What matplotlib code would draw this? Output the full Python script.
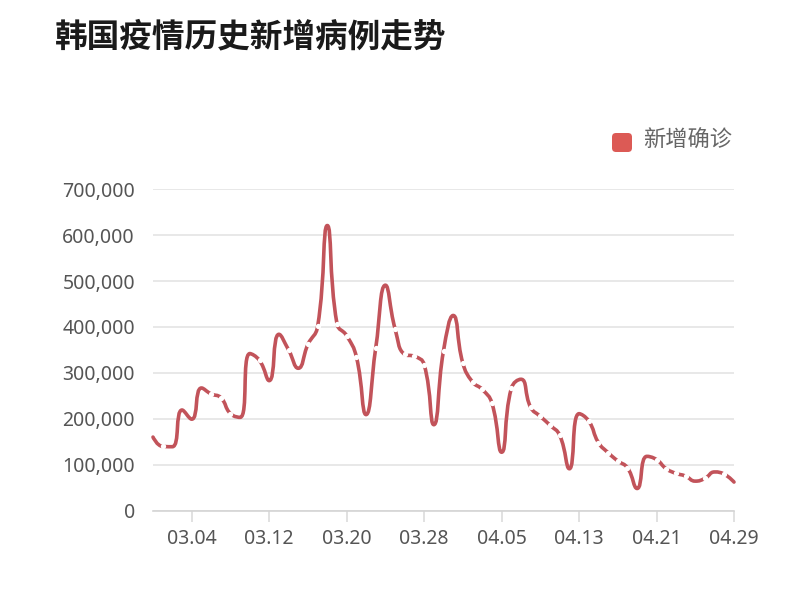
import numpy as np
import pandas as pd
import matplotlib
matplotlib.use('Agg')
import matplotlib.pyplot as plt
from matplotlib.path import Path
from matplotlib.patches import PathPatch, FancyBboxPatch
from matplotlib.ticker import FuncFormatter

plt.rcParams['font.family'] = ['Noto Sans CJK SC', 'DejaVu Sans']

# ---------------- data ----------------
title = '韩国疫情历史新增病例走势'
series_name = '新增确诊'
dates = pd.date_range('2022-02-28', '2022-04-29', freq='D')
date_labels = [d.strftime('%m.%d') for d in dates]
new_cases = [
    160000, 139600, 139000, 219000, 199000, 267000, 254000, 246000, 211000, 203000,
    342000, 327000, 283000, 384000, 350000, 310000, 362000, 401000, 621000, 407000,
    381000, 335000, 209000, 354000, 491000, 396000, 340000, 336000, 318000, 187000,
    348000, 425000, 321000, 280000, 264000, 234000, 127000, 266000, 286000, 225000,
    205000, 186000, 164000, 91000, 211000, 195000, 148000, 126000, 108000, 93000,
    48000, 118000, 111000, 91000, 81000, 75000, 64000, 70000, 84000, 79000,
    62000,
]
shown_ticks = ['03.04', '03.12', '03.20', '03.28', '04.05', '04.13', '04.21', '04.29']
y_ticks = [0, 100000, 200000, 300000, 400000, 500000, 600000, 700000]

# ---------------- figure ----------------
W, H = 811, 592
fig = plt.figure(figsize=(W / 100, H / 100), dpi=100)
fig.patch.set_facecolor('white')
left, right, bottom, top = 153, 734, 510.5, 189.3
ax = fig.add_axes([left / W, (H - bottom) / H, (right - left) / W, (bottom - top) / H])

x = np.arange(len(new_cases))
y = np.array(new_cases, dtype=float)
ax.set_xlim(0, len(x) - 1)
ax.set_ylim(y_ticks[0], y_ticks[-1])

# grid / axes style
ax.set_yticks(y_ticks)
ax.yaxis.set_major_formatter(FuncFormatter(lambda v, p: f'{int(v):,}'))
ax.grid(axis='y', color='#e2e2e2', linewidth=1.1)
ax.set_axisbelow(True)
for s in ['top', 'right', 'left']:
    ax.spines[s].set_visible(False)
ax.spines['bottom'].set_color('#d4d4d4')
ax.spines['bottom'].set_linewidth(1.2)
ax.tick_params(axis='y', length=0, pad=13, labelsize=14, labelcolor='#555555')
tick_pos = [date_labels.index(t) for t in shown_ticks]
ax.set_xticks(tick_pos)
ax.set_xticklabels(shown_ticks)
ax.tick_params(axis='x', length=8, width=1.1, color='#d8d8d8', pad=5,
               labelsize=14, labelcolor='#555555')
for lab in ax.get_xticklabels() + ax.get_yticklabels():
    lab.set_family(['Noto Sans', 'DejaVu Sans'])

# echarts-like smooth line computed in display space
P = ax.transData.transform(np.column_stack([x, y]))


def smooth_path(P, smooth=0.5):
    n = len(P)
    verts = [tuple(P[0])]
    codes = [Path.MOVETO]
    cp0 = tuple(P[0])
    for i in range(1, n):
        cx, cy = P[i]
        px, py = P[i - 1]
        if i + 1 < n:
            nx, ny = P[i + 1]
            vx, vy = nx - px, ny - py
            l0 = np.hypot(cx - px, cy - py)
            l1 = np.hypot(nx - cx, ny - cy)
            r = l1 / (l0 + l1)
            ncx = cx + vx * smooth * r
            ncy = cy + vy * smooth * r
            ncx = max(min(ncx, max(nx, cx)), min(nx, cx))
            ncy = max(min(ncy, max(ny, cy)), min(ny, cy))
            vx, vy = ncx - cx, ncy - cy
            c1x = cx - vx * l0 / l1
            c1y = cy - vy * l0 / l1
            c1x = max(min(c1x, max(px, cx)), min(px, cx))
            c1y = max(min(c1y, max(py, cy)), min(py, cy))
            vx, vy = cx - c1x, cy - c1y
            ncx = cx + vx * l1 / l0
            ncy = cy + vy * l1 / l0
        else:
            c1x, c1y = cx, cy
            ncx, ncy = cx, cy
        verts += [cp0, (c1x, c1y), (cx, cy)]
        codes += [Path.CURVE4] * 3
        cp0 = (ncx, ncy)
    return np.array(verts), codes


verts, codes = smooth_path(P)
verts_data = ax.transData.inverted().transform(verts)
line_color = '#c2535a'
ax.add_patch(PathPatch(Path(verts_data, codes), fill=False, edgecolor=line_color,
                       linewidth=2.6, capstyle='round', joinstyle='round',
                       clip_on=False, zorder=3))

# small white breaks at the non-extremum data points
d_prev = np.diff(y, prepend=y[0])
d_next = np.diff(y, append=y[-1])
mask = (d_prev * d_next) > 0
ax.plot(x[mask], y[mask], 'o', ms=3.8, color='white', mec='none',
        zorder=4, clip_on=False)

# title
fig.text(55 / W, 1 - 37 / H, title, fontsize=23.5, fontweight='bold',
         color='#1a1a1a', va='center', ha='left')

# legend
fig.add_artist(FancyBboxPatch((6.12, (H - 152) / 100), 0.20, 0.19,
                              boxstyle='round,pad=0,rounding_size=0.04',
                              transform=fig.dpi_scale_trans,
                              facecolor='#dc5a55', edgecolor='none'))
fig.text(643 / W, 1 - 140 / H, series_name, fontsize=16, color='#666666',
         va='center', ha='left')

fig.savefig('out.png', dpi=100, facecolor='white')
